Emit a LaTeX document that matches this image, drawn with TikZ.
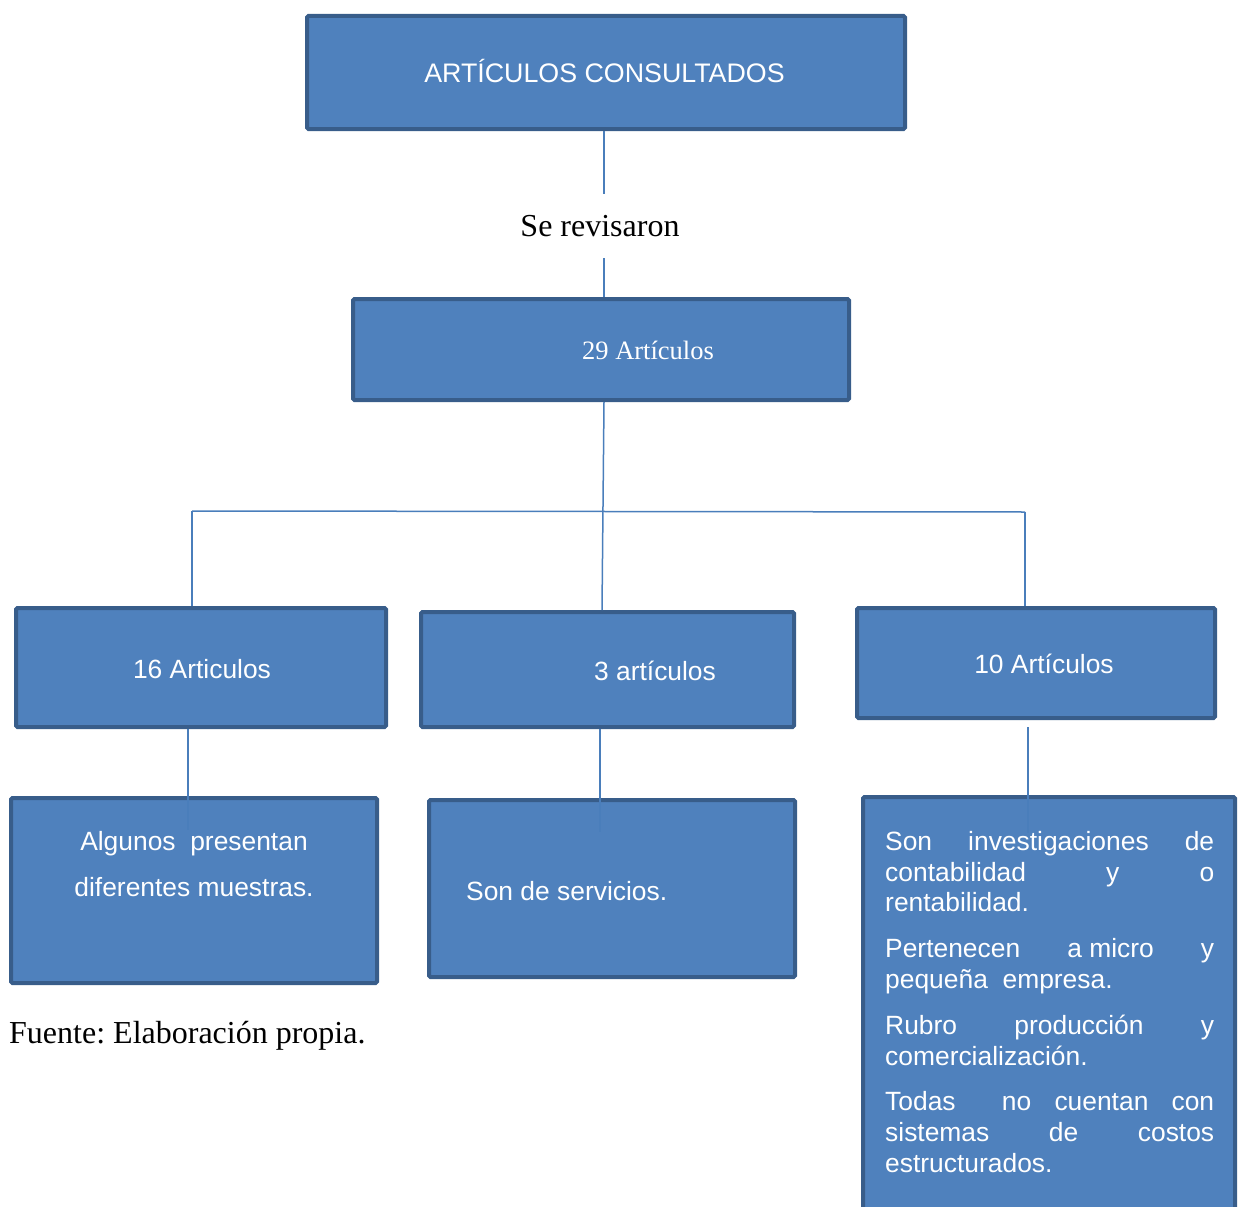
\documentclass[tikz,border=0pt]{standalone}
\usepackage{fontspec}
\setmainfont{Liberation Serif}
\setsansfont{Liberation Sans}
\usepackage{tikz}
\definecolor{boxfill}{HTML}{4F81BD}
\definecolor{boxline}{HTML}{385D8A}
\definecolor{linkblue}{HTML}{4A7EBB}
\frenchspacing

\begin{document}
\begin{tikzpicture}[x=1pt,y=-1pt,
box/.style={rectangle,
  fill=boxfill,
  draw=boxline,
  line width=4pt,
  rounded corners=1.5pt,
  inner sep=0pt
},
lbl/.style={text=white,
  inner sep=0pt,
  font=\sffamily\fontsize{26.4}{30.5}\selectfont
},
conn/.style={draw=linkblue,
  line width=1.5pt
}
]
\useasboundingbox (0,0) rectangle (1240,1207);

\node[box, minimum width=598, minimum height=113] (top) at (606,72.5) {};
\node[lbl, anchor=base, font=\sffamily\fontsize{26.8}{30.5}\selectfont] (ttop) at (604.5,82) {ARTÍCULOS CONSULTADOS};

\node[inner sep=0pt, minimum height=64, font=\fontsize{32}{38}\selectfont] (rev) at (600,226) {Se revisaron};

\node[box, minimum width=496, minimum height=101] (b29) at (601,349.5) {};
\node[lbl, anchor=base, font=\fontsize{26.5}{30}\selectfont] (t29) at (648,359) {29 Artículos};

\node[box, minimum width=370, minimum height=119] (b16) at (201,667.5) {};
\node[lbl, anchor=base] (t16) at (202,678.5) {16 Articulos};
\node[box, minimum width=373, minimum height=115] (b3) at (607.5,669.5) {};
\node[lbl, anchor=base] (t3) at (655,680) {3 artículos};
\node[box, minimum width=358, minimum height=110] (b10) at (1036,663) {};
\node[lbl, anchor=base] (t10) at (1044,673.5) {10 Artículos};

\node[box, minimum width=366, minimum height=185] (alg) at (194,890.5) {};
\node[box, minimum width=366, minimum height=177] (ser) at (612,888.5) {};
\node[box, minimum width=372, minimum height=430] (inv) at (1049,1012) {};

\coordinate (hl) at (192,511);
\coordinate (hr) at (1025,512);

\draw[conn] ([xshift=4pt]top.south -| rev.north) -- ([xshift=4pt]rev.north);
\draw[conn] ([xshift=4pt]rev.south) -- ([xshift=4pt]rev.south |- b29.north);
\draw[conn] ([xshift=3pt]b29.south) -- ([xshift=-5.5pt]b3.north);
\draw[conn] (hl) -- (hr);
\draw[conn] (hl) -- (hl |- b16.north);
\draw[conn] (hr) -- (hr |- b10.north);
\draw[conn] ([xshift=-13pt]b16.south) -- ([xshift=-6pt,yshift=-34pt]alg.north);
\draw[conn] ([xshift=-7.5pt]b3.south) -- ([xshift=-12pt,yshift=-34pt]ser.north);
\draw[conn] ([xshift=-8pt,yshift=-7pt]b10.south) -- ([xshift=-21pt,yshift=-38pt]inv.north);

\node[lbl, align=center, anchor=north, font=\sffamily\fontsize{26.4}{46}\selectfont] (talg) at (194,831)
    {Algunos\ \ presentan\\diferentes muestras.};
\node[lbl, anchor=base west] (tser) at (466,900)
    {Son de servicios.};
\node[lbl, text width=329, align=justify, anchor=north west, font=\sffamily\fontsize{26.4}{30.8}\selectfont] (tinv) at (885,831)
    {\setlength{\parindent}{0pt}\setlength{\parskip}{15pt}%
    Son investigaciones de\linebreak contabilidad y o\linebreak rentabilidad.\par
    Pertenecen \mbox{a micro} y\linebreak pequeña\ \ empresa.\par
    Rubro producción y\linebreak comercialización.\par
    Todas \ no cuentan con\linebreak sistemas de costos\linebreak estructurados.};

\node[anchor=base west, inner sep=0pt, font=\fontsize{32}{38}\selectfont] (src) at (9,1043)
    {Fuente: Elaboración propia.};
\end{tikzpicture}
\end{document}
